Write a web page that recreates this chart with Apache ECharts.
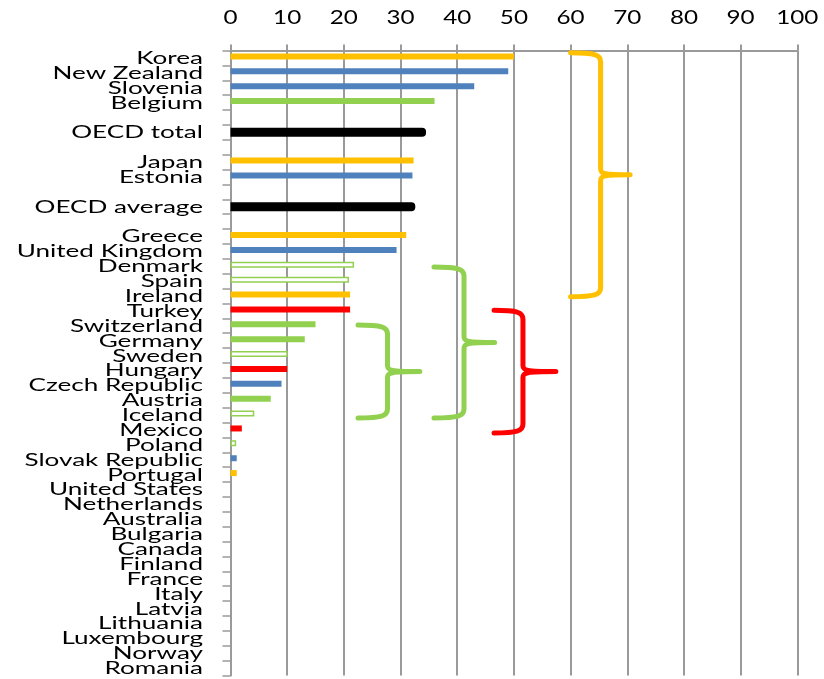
<!DOCTYPE html>
<html>
<head>
<meta charset="utf-8">
<script src="https://cdn.jsdelivr.net/npm/echarts@6/dist/echarts.min.js"></script>
<style>
  html, body { margin: 0; padding: 0; background: #ffffff; }
  #chart { width: 824px; height: 679px; }
</style>
</head>
<body>
<div id="chart"></div>
<script>
// Rows from top to bottom; empty strings are spacer rows.
const categories = [
  'Korea', 'New Zealand', 'Slovenia', 'Belgium', '', 'OECD total', '',
  'Japan', 'Estonia', '', 'OECD average', '', 'Greece', 'United Kingdom',
  'Denmark', 'Spain', 'Ireland', 'Turkey', 'Switzerland', 'Germany', 'Sweden',
  'Hungary', 'Czech Republic', 'Austria', 'Iceland', 'Mexico', 'Poland',
  'Slovak Republic', 'Portugal', 'United States', 'Netherlands', 'Australia',
  'Bulgaria', 'Canada', 'Finland', 'France', 'Italy', 'Latvia', 'Lithuania',
  'Luxembourg', 'Norway', 'Romania'
];

const values = [
  50, 49, 43, 36, null, 34.5, null,
  32.3, 32.1, null, 32.6, null, 31, 29.3,
  21.8, 20.9, 21.1, 21.1, 15, 13.1, 10.1,
  10, 9, 7.1, 4.2, 2, 1,
  1.1, 1.1, 0, 0, 0,
  0, 0, 0, 0, 0, 0, 0,
  0, 0, 0
];

// Colour group of each row
const groups = [
  'orange', 'blue', 'blue', 'green', '', 'oecd', '',
  'orange', 'blue', '', 'oecd', '', 'orange', 'blue',
  'greenOpen', 'greenOpen', 'orange', 'red', 'green', 'green', 'greenOpen',
  'red', 'blue', 'green', 'greenOpen', 'red', 'greenOpen',
  'blue', 'orange', '', '', '',
  '', '', '', '', '', '', '',
  '', '', ''
];

const xTicks = [0, 10, 20, 30, 40, 50, 60, 70, 80, 90, 100];

// Brackets: row span (top/bottom in row units) and x positions in axis units
const braces = [
  { top: -0.35, bottom: 16.05, tip: 60.0, spine: 65.3, point: 70.5, color: '#FFC000' },
  { top: 14.05, bottom: 24.2,  tip: 35.9, spine: 41.2, point: 46.6, color: '#92D050' },
  { top: 17.95, bottom: 24.2,  tip: 22.5, spine: 27.7, point: 33.4, color: '#92D050' },
  { top: 16.95, bottom: 25.2,  tip: 46.5, spine: 51.6, point: 57.4, color: '#FF0000' }
];

const groupStyle = {
  orange:    { color: '#FFC000' },
  blue:      { color: '#4F81BD' },
  green:     { color: '#92D050' },
  greenOpen: { color: '#FFFFFF', borderColor: '#92D050', borderWidth: 1.5 },
  red:       { color: '#FF0000' },
  oecd:      { color: '#000000', borderRadius: [0, 4, 4, 0] }
};

const GRID_GREY = '#9a9a9a';
const LABEL_FONT = 'Lato';
const LABEL_SCALE_X = 1.535;
const TICK_SCALE_X = 1.31;

const countryData = values.map((v, i) => {
  if (v == null || groups[i] === 'oecd') return null;
  return { value: v, itemStyle: groupStyle[groups[i]] || { color: 'rgba(0,0,0,0)' } };
});
const oecdData = values.map((v, i) =>
  groups[i] === 'oecd' ? { value: v, itemStyle: groupStyle.oecd } : null
);

// Pixel y of a (possibly fractional) row position
function rowY(api, r) {
  const y0 = api.coord([0, 0])[1];
  const y1 = api.coord([0, 1])[1];
  return y0 + (y1 - y0) * r;
}

const chart = echarts.init(document.getElementById('chart'), null, { renderer: 'canvas' });

chart.setOption({
  animation: false,
  backgroundColor: '#ffffff',
  grid: { left: 230.5, right: 26.7, top: 50.5, bottom: 3.5, outerBoundsMode: 'none' },
  xAxis: {
    type: 'value',
    position: 'top',
    min: 0,
    max: 100,
    interval: 10,
    axisLine: { show: true, lineStyle: { color: GRID_GREY, width: 2 } },
    axisTick: { show: true, length: 6, lineStyle: { color: GRID_GREY, width: 2 } },
    axisLabel: { show: false },
    splitLine: { show: true, lineStyle: { color: GRID_GREY, width: 2 } }
  },
  yAxis: {
    type: 'category',
    inverse: true,
    data: categories,
    boundaryGap: true,
    axisLine: { show: true, lineStyle: { color: GRID_GREY, width: 2 } },
    axisTick: { show: true, length: 8, interval: 0, lineStyle: { color: GRID_GREY, width: 1.5 } },
    axisLabel: { show: false },
    splitLine: { show: false }
  },
  series: [
    {
      name: 'countries',
      type: 'bar',
      data: countryData,
      barWidth: 6,
      barGap: '-100%',
      silent: true
    },
    {
      name: 'aggregates',
      type: 'bar',
      data: oecdData,
      barWidth: 9,
      barGap: '-100%',
      silent: true
    },
    {
      // category names, stretched horizontally
      name: 'rowLabels',
      type: 'custom',
      silent: true,
      clip: false,
      data: categories.map((c, i) => [0, i]),
      renderItem: function (params, api) {
        const i = params.dataIndex;
        const p = api.coord([0, i]);
        return {
          type: 'text',
          x: p[0] - 27.5,
          y: p[1] + 0.5,
          scaleX: LABEL_SCALE_X,
          style: {
            text: categories[i],
            align: 'right',
            verticalAlign: 'middle',
            fontFamily: LABEL_FONT,
            fontSize: 17,
            fill: '#000000'
          }
        };
      }
    },
    {
      // value axis numbers along the top
      name: 'tickLabels',
      type: 'custom',
      silent: true,
      clip: false,
      data: xTicks.map(v => [v, 0]),
      renderItem: function (params, api) {
        const v = api.value(0);
        const x = api.coord([v, 0])[0];
        return {
          type: 'text',
          x: x,
          y: params.coordSys.y - 32.5,
          scaleX: TICK_SCALE_X,
          style: {
            text: String(xTicks[params.dataIndex]),
            align: 'center',
            verticalAlign: 'middle',
            fontFamily: LABEL_FONT,
            fontSize: 18.5,
            fill: '#000000'
          }
        };
      }
    },
    {
      // curly brackets grouping rows
      name: 'brackets',
      type: 'custom',
      silent: true,
      clip: false,
      data: braces.map(b => [b.point, 0]),
      renderItem: function (params, api) {
        const b = braces[params.dataIndex];
        const tip = api.coord([b.tip, 0])[0];
        const spine = api.coord([b.spine, 0])[0];
        const point = api.coord([b.point, 0])[0];
        const top = rowY(api, b.top);
        const bottom = rowY(api, b.bottom);
        const mid = (top + bottom) / 2;
        const d = [
          'M', tip, top,
          'C', spine - 6, top, spine, top + 2, spine, top + 9,
          'L', spine, mid - 6,
          'C', spine, mid - 1, spine + 3, mid, point, mid,
          'C', spine + 3, mid, spine, mid + 1, spine, mid + 6,
          'L', spine, bottom - 9,
          'C', spine, bottom - 2, spine - 6, bottom, tip, bottom
        ].join(' ');
        return {
          type: 'path',
          shape: { pathData: d },
          style: {
            fill: null,
            stroke: b.color,
            lineWidth: 5,
            lineCap: 'round',
            lineJoin: 'round'
          }
        };
      }
    }
  ]
});
</script>
</body>
</html>
